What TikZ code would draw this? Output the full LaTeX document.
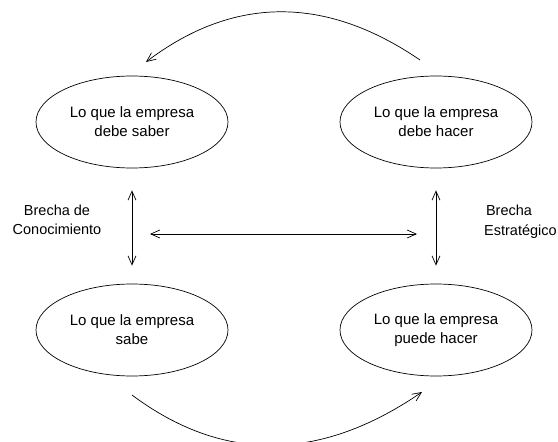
\documentclass[tikz,border=0pt]{standalone}
\usepackage{fontspec}
\setmainfont{Liberation Sans}
\usetikzlibrary{shapes.geometric,arrows.meta}
\tikzset{
  stage/.style={draw, ellipse, line width=0.7pt, minimum width=192pt, minimum height=92pt,
    inner sep=0pt, align=center, font=\fontsize{15}{19}\selectfont},
  gaplabel/.style={align=center, inner sep=0pt, font=\fontsize{14.5}{19}\selectfont},
  link/.style={line width=0.7pt, -{Straight Barb[length=9pt,width=8pt,line width=0.7pt]}},
  twoway/.style={line width=0.7pt, {Straight Barb[length=9pt,width=8pt,line width=0.7pt]}-{Straight Barb[length=9pt,width=8pt,line width=0.7pt]}}
}
\begin{document}
\begin{tikzpicture}[x=1pt, y=-1pt]
  \useasboundingbox (0,0) rectangle (558,442);
  \clip (0,0) rectangle (558,442);

  % the four states of the company
  \node[stage] (debeSaber) at (132,122) {Lo que la empresa\\debe saber};
  \node[stage] (debeHacer) at (436,122) {Lo que la empresa\\debe hacer};
  \node[stage] (sabe)      at (132,330) {Lo que la empresa\\sabe};
  \node[stage] (puede)     at (436,330) {Lo que la empresa\\puede hacer};

  % gap labels
  \node[gaplabel] (brechaCon) at (57,220) {Brecha de\\Conocimiento};
  \node[gaplabel, anchor=base] (brechaEst1) at (509,215) {Brecha};
  \node[gaplabel, anchor=base west] (brechaEst2) at (484,235) {Estratégico};

  % free ends of the connectors
  \coordinate (topStart) at (420,60);
  \coordinate (topEnd)   at (146,62);
  \coordinate (botStart) at (132,395);
  \coordinate (botEnd)   at (422,392);
  \coordinate (midL)     at (150,234);
  \coordinate (midR)     at (417,234);

  % vertical gaps
  \draw[twoway, shorten <=22pt, shorten >=18pt] (debeSaber.south) -- (sabe.north);
  \draw[twoway, shorten <=22pt, shorten >=18pt] (debeHacer.south) -- (puede.north);

  % horizontal gap
  \draw[twoway] (midL) -- (midR);

  % cycle arcs
  \draw[link] (topStart) .. controls (325,-5) and (233,-4) .. (topEnd);
  \draw[link] (botStart) .. controls (223,463) and (320,462) .. (botEnd);
\end{tikzpicture}
\end{document}
